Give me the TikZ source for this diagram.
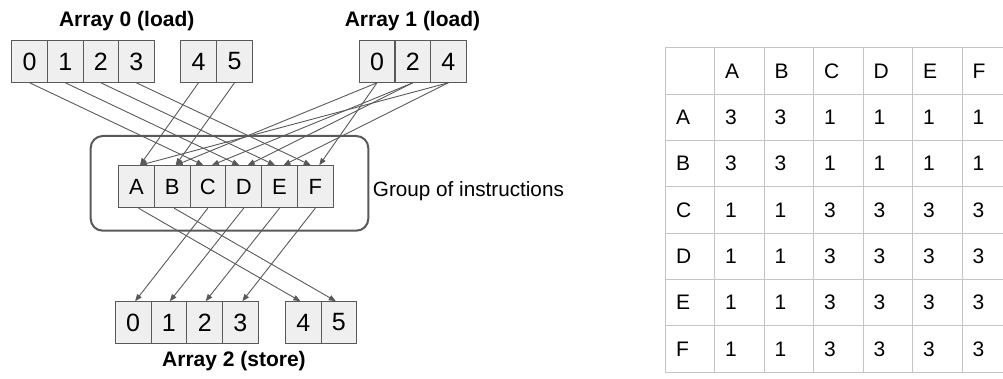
\documentclass[tikz,border=0pt]{standalone}
\usepackage{fontspec}
\setmainfont{Liberation Sans}
\usetikzlibrary{arrows.meta}
\definecolor{ln}{HTML}{595959}
\definecolor{bx}{HTML}{EFEFEF}
\definecolor{tl}{HTML}{C4C4C4}
\begin{document}
\begin{tikzpicture}[x=1pt,y=-1pt,
  cell/.style={draw=ln, fill=bx, line width=1pt, minimum width=35.7pt, minimum height=41.6pt, inner sep=0pt, font=\fontsize{25}{25}\selectfont},
  inst/.style={cell, minimum height=42pt, font=\fontsize{22}{22}\selectfont},
  conn/.style={draw=ln, line width=0.9pt, -{Triangle[length=7pt,width=5.5pt]}},
  ttl/.style={font=\bfseries\fontsize{21}{21}\selectfont, anchor=base, inner sep=0pt},
  grpbox/.style={draw=ln, line width=2pt, rounded corners=12pt, minimum width=277.6pt, minimum height=94.7pt, inner sep=0pt},
  tabtxt/.style={anchor=west, inner sep=0pt, font=\fontsize{21}{21}\selectfont},
  tabline/.style={draw=tl, line width=1pt}]
\useasboundingbox (0,0) rectangle (1003,379);

% group box
\node[grpbox] (grp) at (229.5,183.35) {};

% titles
\node[ttl] (t0) at (126.7,26.7) {Array 0 (load)};
\node[ttl] (t1) at (412.5,26.7) {Array 1 (load)};
\node[ttl] (t2) at (234,366.7) {Array 2 (store)};
\node[anchor=base west, inner sep=0pt, font=\fontsize{20.7}{20.7}\selectfont] (gl) at (372.7,196.7) {Group of instructions};

% array 0
\node[cell] (a0) at (29.7,61.5) {0};
\node[cell] (a1) at (65.35,61.5) {1};
\node[cell] (a2) at (100.85,61.5) {2};
\node[cell] (a3) at (136.35,61.5) {3};
\node[cell] (a4) at (198.5,61.5) {4};
\node[cell] (a5) at (234.5,61.5) {5};
% array 1
\node[cell] (b0) at (377,61.5) {0};
\node[cell] (b2) at (412.85,61.5) {2};
\node[cell] (b4) at (448.35,61.5) {4};
% instructions
\node[inst] (A) at (136.5,186.7) {A};
\node[inst] (B) at (172.15,186.7) {B};
\node[inst] (C) at (207.85,186.7) {C};
\node[inst] (D) at (243.7,186.7) {D};
\node[inst] (E) at (279.5,186.7) {E};
\node[inst] (F) at (315.3,186.7) {F};
% array 2
\node[cell] (c0) at (133.15,322.5) {0};
\node[cell] (c1) at (168.85,322.5) {1};
\node[cell] (c2) at (204.7,322.5) {2};
\node[cell] (c3) at (240.35,322.5) {3};
\node[cell] (c4) at (303.35,322.5) {4};
\node[cell] (c5) at (338.85,322.5) {5};

% loads from array 0
\draw[conn] (a4.south) -- ([xshift=3.5pt]A.north);
\draw[conn] (a5.south) -- ([xshift=3.5pt]B.north);
\draw[conn] (a0.south) -- ([xshift=-4.5pt]C.north);
\draw[conn] (a1.south) -- ([xshift=-4.5pt]D.north);
\draw[conn] (a2.south) -- ([xshift=-4.5pt]E.north);
\draw[conn] (a3.south) -- ([xshift=-4.5pt]F.north);
% loads from array 1
\draw[conn] (b4.south) -- ([xshift=3.5pt]A.north);
\draw[conn] (b0.south) -- ([xshift=3.5pt]B.north);
\draw[conn] (b2.south) -- ([xshift=4pt]C.north);
\draw[conn] (b2.south) -- ([xshift=4pt]D.north);
\draw[conn] (b4.south) -- ([xshift=4pt]E.north);
\draw[conn] (b0.south) -- ([xshift=4pt]F.north);
% stores
\draw[conn] ([xshift=2pt]A.south) -- ([xshift=-3pt]c4.north);
\draw[conn] ([xshift=2pt]B.south) -- ([xshift=-3pt]c5.north);
\draw[conn] (C.south) -- ([xshift=2pt]c0.north);
\draw[conn] (D.south) -- ([xshift=1pt]c1.north);
\draw[conn] (E.south) -- ([xshift=1pt]c2.north);
\draw[conn] (F.south) -- ([xshift=2pt]c3.north);

% table grid
\foreach \r in {0,...,7} {
  \draw[tabline] (665.3,47.7+\r*46.37) -- (1004,47.7+\r*46.37);
}
\foreach \c in {0,...,6} {
  \draw[tabline] (665.3+\c*49.5,47.7) -- (665.3+\c*49.5,372.3);
}
% table text
\foreach \lab [count=\i] in {A,B,C,D,E,F} {
  \node[tabtxt] (h\lab) at (665.3+\i*49.5+10,70.9) {\lab};
  \node[tabtxt] (r\lab) at (675.8,70.9+\i*46.37) {\lab};
}
\foreach \row [count=\j] in {{3,3,1,1,1,1},{3,3,1,1,1,1},{1,1,3,3,3,3},{1,1,3,3,3,3},{1,1,3,3,3,3},{1,1,3,3,3,3}} {
  \foreach \v [count=\i] in \row {
    \node[tabtxt] (v\j-\i) at (665.3+\i*49.5+10,70.9+\j*46.37) {\v};
  }
}
\end{tikzpicture}
\end{document}
